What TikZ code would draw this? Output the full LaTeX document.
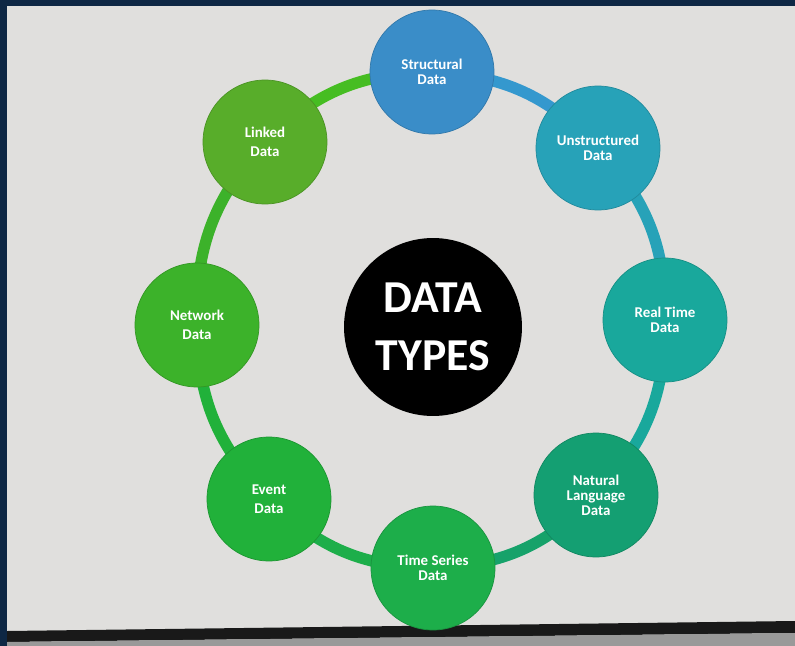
\documentclass[tikz,border=0pt]{standalone}
\usepackage{fontspec}
\setmainfont{Carlito}
\usetikzlibrary{backgrounds}

\definecolor{bezel}{HTML}{0E2744}
\definecolor{screen}{HTML}{E0DFDD}
\definecolor{sdcol}{HTML}{3A8DC8}
\definecolor{udcol}{HTML}{27A2B8}
\definecolor{rtcol}{HTML}{19A89C}
\definecolor{nlcol}{HTML}{149F72}
\definecolor{tscol}{HTML}{1DAE4A}
\definecolor{evcol}{HTML}{21B13A}
\definecolor{nwcol}{HTML}{3CB22A}
\definecolor{lkcol}{HTML}{58AD2A}

\begin{document}
\begin{tikzpicture}[x=0.02cm, y=-0.02cm,
    topic/.style={circle, minimum size=2.48cm, inner sep=0pt, text=white,
                  align=center, font=\bfseries\fontsize{8.5}{8.5}\selectfont},
    loose/.style={font=\bfseries\fontsize{8.5}{11}\selectfont},
    ring/.style={line width=6.5pt, bend left=22}]

    \useasboundingbox (0,0) rectangle (795,646);

    %define the screen
    \begin{scope}[on background layer]
        \fill[bezel] (0,0) rectangle (795,646);
        \fill[screen] (7,6) rectangle (795,646);
        \fill[black!90] (7,631) -- (795,621) -- (795,633) -- (7,642) -- cycle;
        \fill[black!40] (7,642) -- (795,633) -- (795,646) -- (7,646) -- cycle;
    \end{scope}

    %define the circles
    \node[circle, fill=black, minimum size=3.56cm, inner sep=0pt, text=white,
          align=center, font=\bfseries\fontsize{26}{33}\selectfont]
          (dt) at (433,327) {DATA\\TYPES};
    \node[topic, fill=sdcol, draw=sdcol!85!black] (sd) at (432,72) {Structural\\Data};
    \node[topic, fill=udcol, draw=udcol!85!black] (ud) at (598,148) {Unstructured\\Data};
    \node[topic, fill=rtcol, draw=rtcol!85!black] (rt) at (665,320) {Real Time\\Data};
    \node[topic, fill=nlcol, draw=nlcol!85!black] (nl) at (596,495) {Natural\\Language\\Data};
    \node[topic, fill=tscol, draw=tscol!85!black] (ts) at (433,568) {Time Series\\Data};
    \node[topic, loose, fill=evcol, draw=evcol!85!black] (ev) at (269,499) {Event\\Data};
    \node[topic, loose, fill=nwcol, draw=nwcol!85!black] (nw) at (197,325) {Network\\Data};
    \node[topic, loose, fill=lkcol, draw=lkcol!85!black] (lk) at (265,142) {Linked\\Data};

    %define the ring
    \begin{scope}[on background layer]
        \draw[ring, sdcol!90!cyan] (sd.center) to (ud.center);
        \draw[ring, udcol] (ud.center) to (rt.center);
        \draw[ring, rtcol] (rt.center) to (nl.center);
        \draw[ring, nlcol!80!tscol] (nl.center) to (ts.center);
        \draw[ring, tscol] (ts.center) to (ev.center);
        \draw[ring, evcol] (ev.center) to (nw.center);
        \draw[ring, nwcol] (nw.center) to (lk.center);
        \draw[ring, lkcol!80!green] (lk.center) to (sd.center);
    \end{scope}

\end{tikzpicture}
\end{document}
